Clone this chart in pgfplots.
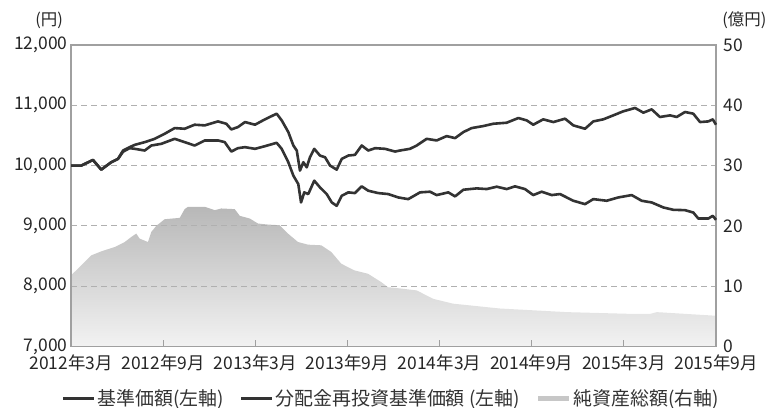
\documentclass[border=0pt]{standalone}
\usepackage{fontspec}
\setmainfont{Noto Sans CJK JP}
\usepackage{pgfplots}
\pgfplotsset{compat=1.18}
\definecolor{linec}{HTML}{333333}
\definecolor{axc}{HTML}{A0A0A0}
\definecolor{gridc}{HTML}{B0B0B0}
\begin{document}
\begin{tikzpicture}
\useasboundingbox (0,0) rectangle (773bp,408bp);
% right axis: net assets (area)
\begin{axis}[
  at={(71bp,61.5bp)}, anchor=south west,
  scale only axis, width=645bp, height=301.5bp,
  xmin=0, xmax=42, ymin=0, ymax=50,
  axis x line=none,
  axis y line*=right,
  axis line style={axc, line width=1.2bp},
  ytick={0,10,...,50},
  y tick style={draw=none},
  /pgf/number format/assume math mode=true,
  tick label style={font=\fontsize{17.5}{19}\selectfont, text=black!85},
  yticklabel style={xshift=4bp},
]
\addplot[draw=none, top color=black!28, bottom color=black!5] coordinates {
(0,11.8)(0.67,13.44)(1.32,15.11)(1.97,15.78)(2.85,16.5)(3.50,17.33)(3.93,18.17)(4.25,18.72)(4.47,17.89)(5.01,17.33)(5.23,19.0)(5.55,20.0)(6.10,21.11)(7.08,21.33)(7.40,22.78)(7.62,23.17)(8.71,23.17)(9.36,22.61)(9.79,22.89)(10.66,22.78)(10.99,21.67)(11.64,21.22)(12.18,20.39)(12.83,20.22)(13.59,20.11)(14.13,18.72)(14.78,17.33)(15.43,16.89)(16.30,16.78)(16.95,15.67)(17.60,13.72)(18.47,12.61)(19.34,12.06)(20.21,10.67)(20.64,9.83)(21.29,9.67)(22.51,9.3)(23.59,7.9)(24.89,7.1)(27.93,6.3)(32.28,5.7)(36.61,5.4)(37.7,5.4)(38.14,5.7)(42,5.1)
} \closedcycle;
\end{axis}
% left axis: NAV lines
\begin{axis}[
  at={(71bp,61.5bp)}, anchor=south west,
  scale only axis, width=645bp, height=301.5bp,
  xmin=0, xmax=42, ymin=7000, ymax=12000,
  axis line style={axc, line width=1.2bp},
  xtick={0,6,...,42},
  xticklabels={2012年3月,2012年9月,2013年3月,2013年9月,2014年3月,2014年9月,2015年3月,2015年9月},
  xtick pos=bottom, ytick pos=left,
  tick align=inside,
  x tick style={axc, line width=1bp},
  major tick length=6bp,
  ytick={7000,8000,...,12000},
  scaled y ticks=false,
  y tick style={draw=none},
  ymajorgrids,
  grid style={gridc, line width=1.2bp, dash pattern=on 6bp off 4bp},
  /pgf/number format/assume math mode=true,
  /pgf/number format/1000 sep={,},
  tick label style={font=\fontsize{17.5}{19}\selectfont, text=black!85},
  xticklabel style={yshift=-4.5bp},
  legend columns=3,
  legend style={draw=none, fill=none, at={(0.497,-0.172)}, anchor=center,
    font=\fontsize{19}{21}\selectfont, text=black!80,
    /tikz/every even column/.append style={column sep=14bp},
    nodes={inner sep=2bp}},
  legend image code/.code={\draw[#1] (0bp,0bp) -- (31bp,0bp);},
  clip=false,
]
\addplot[linec, line width=2.6bp, line join=round] coordinates {
(0,10000)(0.67,10000)(1.43,10094)(1.97,9933)(2.62,10056)(3.06,10111)(3.39,10230)(3.82,10290)(4.15,10278)(4.80,10250)(5.23,10333)(5.88,10361)(6.75,10444)(7.40,10389)(8.05,10333)(8.71,10417)(9.57,10417)(10.01,10389)(10.44,10233)(10.87,10289)(11.33,10306)(11.98,10278)(12.63,10322)(13.39,10378)(13.72,10278)(14.15,10056)(14.48,9833)(14.80,9694)(14.98,9389)(15.19,9556)(15.45,9528)(15.84,9750)(16.21,9639)(16.65,9528)(16.98,9389)(17.30,9333)(17.63,9500)(18.06,9556)(18.49,9544)(18.93,9656)(19.36,9583)(20.01,9544)(20.66,9528)(21.31,9472)(21.96,9444)(22.73,9556)(23.38,9567)(23.81,9511)(24.57,9556)(25.01,9489)(25.55,9600)(26.42,9622)(27.07,9611)(27.72,9650)(28.37,9611)(28.91,9656)(29.56,9611)(30.10,9511)(30.65,9567)(31.30,9511)(31.84,9528)(32.71,9417)(33.47,9361)(34.01,9444)(34.88,9417)(35.64,9472)(36.51,9511)(37.16,9417)(37.81,9389)(38.57,9306)(39.22,9267)(39.98,9261)(40.52,9222)(40.85,9122)(41.50,9122)(41.79,9167)(42,9100)
};
\addlegendentry{基準価額(左軸)}
\addplot[linec, line width=2.6bp, line join=round] coordinates {
(0,10000)(0.67,10000)(1.43,10094)(1.97,9933)(2.62,10056)(3.06,10111)(3.39,10250)(3.82,10306)(4.15,10344)(4.80,10389)(5.45,10444)(6.10,10528)(6.75,10622)(7.40,10611)(8.05,10678)(8.71,10667)(9.57,10733)(10.11,10694)(10.44,10600)(10.87,10639)(11.33,10722)(11.98,10678)(12.63,10767)(13.39,10861)(13.72,10750)(14.15,10556)(14.48,10333)(14.70,10250)(14.91,9917)(15.13,10056)(15.35,9972)(15.56,10139)(15.84,10278)(16.21,10167)(16.54,10139)(16.87,10000)(17.30,9933)(17.63,10111)(18.06,10167)(18.49,10178)(18.93,10333)(19.36,10250)(19.80,10289)(20.45,10278)(21.10,10233)(21.42,10250)(22.07,10278)(22.51,10333)(23.16,10444)(23.81,10417)(24.46,10489)(25.01,10456)(25.55,10556)(26.09,10622)(26.85,10656)(27.50,10694)(28.37,10711)(29.13,10789)(29.67,10750)(30.10,10678)(30.75,10767)(31.41,10722)(32.17,10778)(32.71,10667)(33.47,10611)(34.01,10733)(34.66,10767)(35.31,10833)(35.96,10900)(36.73,10956)(37.27,10878)(37.81,10933)(38.35,10806)(39.01,10833)(39.44,10806)(39.98,10889)(40.52,10861)(40.96,10722)(41.50,10733)(41.79,10767)(42,10678)
};
\addlegendentry{分配金再投資基準価額 (左軸)}
\addlegendimage{line width=5bp, color=black!22}
\addlegendentry{純資産総額(右軸)}
\node[font=\fontsize{16.5}{18}\selectfont, text=black!85] at (axis description cs:-0.034,1.081) {(円)};
\node[font=\fontsize{16.5}{18}\selectfont, text=black!85] at (axis description cs:1.044,1.081) {(億円)};
\end{axis}
\end{tikzpicture}
\end{document}
